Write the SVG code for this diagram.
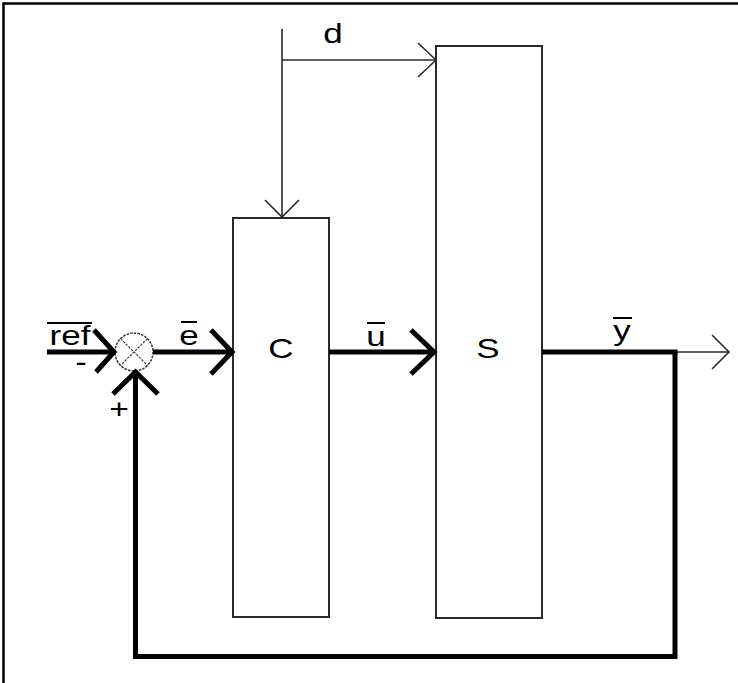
<svg xmlns="http://www.w3.org/2000/svg" width="738" height="683" viewBox="0 0 738 683">
<style>
.lbl{font-family:"Liberation Sans",Arial,sans-serif;font-size:28px;fill:#000;text-anchor:middle}
.blk{fill:#fff;stroke:#2a2a2a;stroke-width:2}
.thick{fill:none;stroke:#000;stroke-width:5;stroke-linejoin:miter}
.thin{fill:none;stroke:#2a2a2a;stroke-width:1.6}
.bar{stroke:#000;stroke-width:2}
</style>
<rect x="0" y="0" width="738" height="683" fill="#fff"/>
<path d="M3.5 683 V3.5 H738" fill="none" stroke="#000" stroke-width="2.5"/>

<g id="node-C">
<rect class="blk" x="233" y="218" width="96" height="399"/>
<text class="lbl" transform="translate(281,358) scale(1.25,1)">C</text>
</g>
<g id="node-S">
<rect class="blk" x="436" y="46" width="106" height="572"/>
<text class="lbl" transform="translate(488,358) scale(1.25,1)">S</text>
</g>
<g id="node-sum">
<circle cx="134" cy="352" r="19" fill="#fff" stroke="#333" stroke-width="1.5" stroke-dasharray="2.5 1.2"/>
<path d="M120.6 338.6 L147.4 365.4 M147.4 338.6 L120.6 365.4" stroke="#444" stroke-width="1.2" stroke-dasharray="2.5 1.2"/>
</g>

<g id="connectors">
<!-- ref input -->
<path class="thick" d="M47 352 H114"/>
<polyline class="thick" points="94,330 114,352 96,372"/>
<!-- e -->
<path class="thick" d="M153 352 H231"/>
<polyline class="thick" points="211,330 232,352 211,374"/>
<!-- u -->
<path class="thick" d="M329 352 H434"/>
<polyline class="thick" points="411,330 434,352 411,374"/>
<!-- y output -->
<path class="thick" d="M542 352 H677.5"/>
<path class="thin" d="M675 352 H729"/>
<polyline class="thin" points="712,335 729,352 712,369"/>
<!-- feedback -->
<path class="thick" d="M675 352 V656.5 H135.5 V373"/>
<polyline class="thick" points="113,394 135.5,372 158,394"/>
<!-- d -->
<path class="thin" d="M282 29 V217"/>
<polyline class="thin" points="265,200 282,217 299,200"/>
<path class="thin" d="M282 60 H436"/>
<polyline class="thin" points="418,43 436,60 418,77"/>
</g>

<g id="labels">
<text class="lbl" transform="translate(70,345) scale(1.25,1)">ref</text>
<line class="bar" x1="47" y1="323" x2="92" y2="323"/>
<text class="lbl" transform="translate(81,371) scale(1.2,1)">-</text>
<text class="lbl" transform="translate(119,418) scale(1.2,1)">+</text>
<text class="lbl" transform="translate(189,345) scale(1.25,1)">e</text>
<line class="bar" x1="181" y1="322" x2="197" y2="322"/>
<text class="lbl" transform="translate(376,346) scale(1.25,1)">u</text>
<line class="bar" x1="367" y1="323" x2="385" y2="323"/>
<text class="lbl" transform="translate(622,340) scale(1.25,1)">y</text>
<line class="bar" x1="613" y1="318" x2="632" y2="318"/>
<text class="lbl" transform="translate(333,43) scale(1.25,1)">d</text>
</g>
</svg>
